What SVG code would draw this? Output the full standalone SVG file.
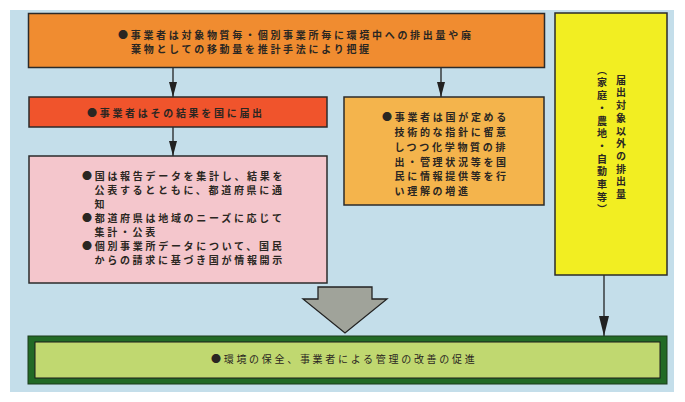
<svg xmlns="http://www.w3.org/2000/svg" width="685" height="402" viewBox="0 0 685 402">
<defs>
<style>
.box{stroke:#2b2b2b;stroke-width:1.5}
.t{font-family:"Noto Sans CJK JP","Noto Sans CJK SC",sans-serif;font-size:10px;font-weight:700;fill:#2a2622;letter-spacing:2.7px}
.tn{font-weight:400}
.v{writing-mode:vertical-rl;text-orientation:mixed}
.ln{stroke:#222;stroke-width:1.3;fill:none}
</style>
<marker id="ah" markerUnits="userSpaceOnUse" markerWidth="15" markerHeight="8" refX="15" refY="4" orient="auto" viewBox="0 0 15 8">
<path d="M0,0 L15,4 L0,8 Z" fill="#222"/>
</marker>
<marker id="ah2" markerUnits="userSpaceOnUse" markerWidth="20" markerHeight="10" refX="20" refY="5" orient="auto" viewBox="0 0 20 10">
<path d="M0,0 L20,5 L0,10 Z" fill="#222"/>
</marker>
</defs>
<rect x="0" y="0" width="685" height="402" fill="#ffffff"/>
<rect x="10" y="10" width="664" height="382" fill="#c4deea"/>

<g id="connectors">
<line class="ln" x1="173" y1="67" x2="173" y2="97" marker-end="url(#ah)"/>
<line class="ln" x1="441" y1="67" x2="441" y2="97" marker-end="url(#ah)"/>
<line class="ln" x1="173" y1="127" x2="173" y2="156" marker-end="url(#ah)"/>
<line class="ln" x1="604" y1="275" x2="604" y2="336" marker-end="url(#ah2)"/>
<path d="M318,287 L372,287 L372,299 L387,299 L345,333 L303,299 L318,299 Z" fill="#a0a39a" stroke="#222" stroke-width="1.3"/>
</g>

<g id="node-top">
<rect class="box" x="28.5" y="13.5" width="516" height="54" fill="#f08c30"/>
<text class="t" x="118" y="38.5">●事業者は対象物質毎・個別事業所毎に環境中への排出量や廃</text>
<text class="t" x="131" y="53">棄物としての移動量を推計手法により把握</text>
</g>

<g id="node-report">
<rect class="box" x="29" y="97" width="298" height="30" fill="#f0542c"/>
<text class="t" x="87" y="117">●事業者はその結果を国に届出</text>
</g>

<g id="node-country">
<rect class="box" x="29" y="156" width="298" height="127" fill="#f4c6cc"/>
<text class="t" x="82" y="179.5">●国は報告データを集計し、結果を</text>
<text class="t" x="94.5" y="193.5">公表するとともに、都道府県に通</text>
<text class="t" x="94.5" y="207.5">知</text>
<text class="t" x="82" y="221.5">●都道府県は地域のニーズに応じて</text>
<text class="t" x="94.5" y="235.5">集計・公表</text>
<text class="t" x="82" y="250">●個別事業所データについて、国民</text>
<text class="t" x="94.5" y="264">からの請求に基づき国が情報開示</text>
</g>

<g id="node-guideline">
<rect class="box" x="344" y="97" width="200" height="108" fill="#f4b44c"/>
<text class="t" x="382" y="121">●事業者は国が定める</text>
<text class="t" x="394.5" y="136">技術的な指針に留意</text>
<text class="t" x="394.5" y="151">しつつ化学物質の排</text>
<text class="t" x="394.5" y="165.5">出・管理状況等を国</text>
<text class="t" x="394.5" y="180">民に情報提供等を行</text>
<text class="t" x="394.5" y="194.5">い理解の増進</text>
</g>

<g id="node-other">
<rect class="box" x="555" y="13" width="112" height="262" fill="#f2ee22"/>
<text class="t v" x="621" y="75">届出対象以外の排出量</text>
<text class="t v" x="602" y="65">（家庭・農地・自動車等）</text>
</g>

<g id="node-result">
<rect x="28" y="336" width="639" height="48" fill="#226a26" stroke="#1a3a1a" stroke-width="1"/>
<rect x="35" y="342" width="625" height="36" fill="#c0d870" stroke="#1a1a1a" stroke-width="1"/>
<text class="t tn" x="211" y="363">●環境の保全、事業者による管理の改善の促進</text>
</g>
</svg>
